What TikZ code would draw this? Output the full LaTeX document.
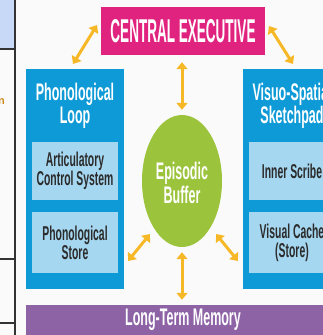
\documentclass[tikz,border=0pt]{standalone}
\usepackage{fontspec}
\setmainfont{Liberation Sans}
\newfontfamily\condf[FakeStretch=0.52]{Liberation Sans}
\newfontfamily\condce[FakeStretch=0.41]{Liberation Sans}
\usetikzlibrary{arrows.meta,shapes.geometric}
\definecolor{cepink}{HTML}{E0237F}
\definecolor{wmblue}{HTML}{0E9AD6}
\definecolor{wmlight}{HTML}{A6D7F0}
\definecolor{ebgreen}{HTML}{9CC33C}
\definecolor{ltmpurple}{HTML}{8D63A6}
\definecolor{arrowyel}{HTML}{F6B826}
\definecolor{cellblue}{HTML}{C8D8F7}
\definecolor{innertext}{HTML}{2B2B2B}
\definecolor{linegray}{HTML}{333333}
\definecolor{nfrag}{HTML}{CD8A1E}
\tikzset{
  outerbox/.style={fill=wmblue, draw=none, inner sep=0pt},
  innerbox/.style={fill=wmlight, draw=none, inner sep=0pt, minimum width=86pt},
  headtext/.style={text=white, align=center, font=\condf\bfseries\fontsize{24}{21}\selectfont},
  intext/.style={text=innertext, align=center, font=\condf\bfseries\fontsize{20}{19}\selectfont},
  dbl/.style={draw=arrowyel, line width=3pt, {Triangle[length=7pt,width=11pt]}-{Triangle[length=7pt,width=11pt]}},
  tline/.style={draw=linegray, line width=1.2pt}
}
\begin{document}
\begin{tikzpicture}[x=1pt,y=-1pt]
\useasboundingbox (0,0) rectangle (323,335);
\clip (0,0) rectangle (323,335);
\fill[white!98!black] (0,0) rectangle (323,335);
% table fragment
\fill[cellblue] (0,0) rectangle (15,49);
\draw[tline] (0,49) -- (15,49);
\draw[tline] (0,259) -- (15,259);
\draw[tline] (0,323) -- (15,323);
\draw[tline] (15,0) -- (15,335);
\node[anchor=east, inner sep=0pt, text=nfrag, font=\bfseries\fontsize{11}{12}\selectfont] (nf) at (5,102) {n};
% central executive
\node[fill=cepink, minimum width=164pt, minimum height=48pt, inner sep=0pt,
      text=white, font=\condce\bfseries\fontsize{33}{34}\selectfont] (ce) at (183,31) {CENTRAL EXECUTIVE};
% phonological loop
\node[outerbox, minimum width=98pt, minimum height=220pt] (pl) at (75,179) {};
\node[headtext] (plt) at (75,106) {Phonological\\Loop};
\node[innerbox, minimum height=58pt] (acs) at (75,171) {};
\node[intext] (acst) at (75,171) {Articulatory\\Control System};
\node[innerbox, minimum height=61pt] (ps) at (75,242.5) {};
\node[intext] (pst) at (75,242.5) {Phonological\\Store};
% visuo-spatial sketchpad
\node[outerbox, minimum width=98pt, minimum height=220pt] (vs) at (292,179) {};
\node[headtext] (vst) at (292,106) {Visuo-Spatial\\Sketchpad};
\node[innerbox, minimum height=58pt] (is) at (292,171) {};
\node[intext] (ist) at (292,171) {Inner Scribe};
\node[innerbox, minimum height=61pt] (vc) at (292,242.5) {};
\node[intext] (vct) at (292,242.5) {Visual Cache\\(Store)};
% episodic buffer
\node[ellipse, fill=ebgreen, minimum width=80pt, minimum height=132pt, inner sep=0pt] (eb) at (182,181) {};
\node[headtext, font=\condf\bfseries\fontsize{24}{22}\selectfont] (ebt) at (182,183) {Episodic\\Buffer};
% long-term memory
\node[fill=ltmpurple, minimum width=320pt, minimum height=34pt, inner sep=0pt] (ltm) at (186,322) {};
\node[headtext] (ltmt) at (183,320) {Long-Term Memory};
% arrows
\coordinate (a1s) at (97,25); \coordinate (a1e) at (73,64);
\coordinate (a2s) at (269,26); \coordinate (a2e) at (293,64);
\coordinate (a4s) at (150,234); \coordinate (a4e) at (128,261);
\coordinate (a5s) at (216,234); \coordinate (a5e) at (238,261);
\draw[dbl] (a1s) -- (a1e);
\draw[dbl] (a2s) -- (a2e);
\draw[dbl, shorten <=7pt, shorten >=5pt] (ce.south -| eb.north) -- (eb.north);
\draw[dbl] (a4s) -- (a4e);
\draw[dbl] (a5s) -- (a5e);
\draw[dbl, shorten <=5pt, shorten >=5pt] (eb.south) -- (ltm.north -| eb.south);
\end{tikzpicture}
\end{document}
